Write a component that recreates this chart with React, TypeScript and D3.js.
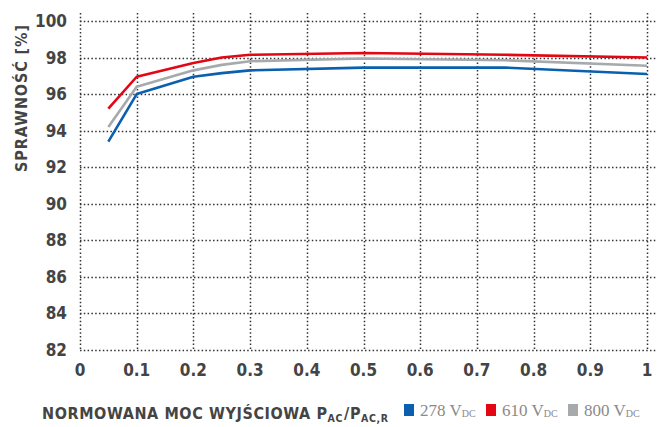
import React from 'react';
import * as d3 from 'd3';

const loads = [0.05, 0.1, 0.2, 0.25, 0.3, 0.5, 0.75, 1];
const eff278 = [93.4, 96.0, 96.95, 97.15, 97.3, 97.45, 97.45, 97.1];
const eff610 = [95.2, 96.95, 97.7, 98.0, 98.15, 98.25, 98.15, 98.0];
const eff800 = [94.2, 96.4, 97.3, 97.6, 97.8, 97.95, 97.85, 97.55];
const xTicks = [0, 0.1, 0.2, 0.3, 0.4, 0.5, 0.6, 0.7, 0.8, 0.9, 1];
const yTicks = [82, 84, 86, 88, 90, 92, 94, 96, 98, 100];
const seriesNames = ['278', '610', '800'];

const colors = ['#0a5fae', '#e30613', '#a7aaad'];
const labelFont = '"DejaVu Sans Condensed", "DejaVu Sans", sans-serif';

export default function App() {
  const width = 659;
  const height = 427;
  const x = d3.scaleLinear().domain([0, 1]).range([80, 647]);
  const y = d3.scaleLinear().domain([82, 100]).range([350, 21]);

  const line = d3
    .line<number>()
    .x((_, i) => x(loads[i]))
    .y((d) => y(d));

  const series = [eff278, eff610, eff800];
  // grey first, then blue, red on top
  const order = [2, 0, 1];

  const legendX = [404, 486, 568];

  return (
    <svg
      width={width}
      height={height}
      style={{ position: 'absolute', left: 0, top: 0, background: '#fff' }}
    >
      {/* grid */}
      <g stroke="#333" strokeWidth={1.5} strokeDasharray="1.5,2.3">
        {xTicks.map((t) => (
          <line key={'v' + t} x1={Math.round(x(t)) + 0.5} x2={Math.round(x(t)) + 0.5} y1={13} y2={y(82)} />
        ))}
        {yTicks.map((t) => (
          <line key={'h' + t} x1={x(0)} x2={656} y1={Math.round(y(t)) + 0.5} y2={Math.round(y(t)) + 0.5} />
        ))}
      </g>

      {/* lines */}
      {order.map((k) => (
        <path
          key={k}
          d={line(series[k]) || ''}
          fill="none"
          stroke={colors[k]}
          strokeWidth={2.6}
          strokeLinejoin="round"
        />
      ))}

      {/* y ticks */}
      <g
        fontFamily={labelFont}
        fontWeight="bold"
        fontSize={17}
        fill="#444"
        textAnchor="end"
      >
        {yTicks.map((t) => (
          <text key={t} x={67} y={y(t) + 6}>
            {t}
          </text>
        ))}
      </g>

      {/* x ticks */}
      <g
        fontFamily={labelFont}
        fontWeight="bold"
        fontSize={17}
        fill="#444"
        textAnchor="middle"
      >
        {xTicks.map((t) => (
          <text key={t} x={x(t)} y={376}>
            {d3.format('~g')(t)}
          </text>
        ))}
      </g>

      {/* y title */}
      <text
        transform="translate(27, 98) rotate(-90)"
        textAnchor="middle"
        fontFamily={labelFont}
        fontWeight="bold"
        fontSize={16}
        letterSpacing={0.9}
        fill="#444"
      >
        SPRAWNOŚĆ [%]
      </text>

      {/* x title */}
      <text
        x={42}
        y={419}
        fontFamily={labelFont}
        fontWeight="bold"
        fontSize={16}
        letterSpacing={0.6}
        fill="#444"
      >
        NORMOWANA MOC WYJŚCIOWA P
        <tspan fontSize={10.5} dy={3}>AC</tspan>
        <tspan dy={-3} dx={1}>/P</tspan>
        <tspan fontSize={10.5} dy={3}>AC,R</tspan>
      </text>

      {/* legend */}
      {seriesNames.map((s, i) => (
        <g key={s}>
          <rect x={legendX[i]} y={404} width={10} height={12} fill={colors[i]} />
          <text
            x={legendX[i] + 16}
            y={416}
            fontFamily='"Liberation Serif", serif'
            fontSize={17}
            fill="#8a8a8a"
          >
            {s} V
            <tspan fontSize={10} dy={1}>DC</tspan>
          </text>
        </g>
      ))}
    </svg>
  );
}
